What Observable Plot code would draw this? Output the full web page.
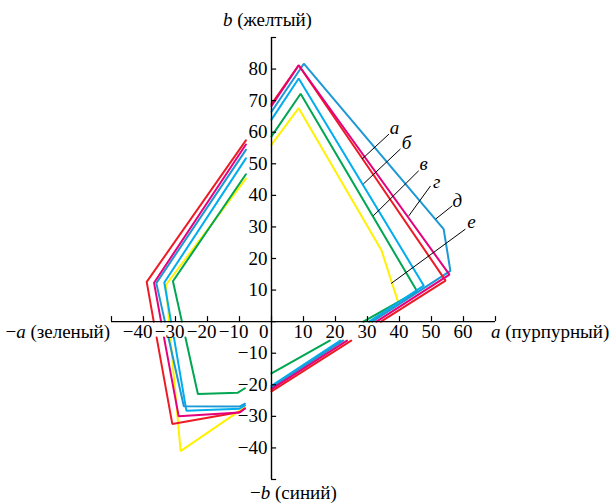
<!DOCTYPE html>
<html>
<head>
<meta charset="utf-8">
<script src="https://cdn.jsdelivr.net/npm/d3@7"></script>
<script src="https://cdn.jsdelivr.net/npm/@observablehq/plot@0.6"></script>
<style>
  body { margin: 0; background: white; }
  #chart { width: 611px; height: 503px; }
</style>
</head>
<body>
<div id="chart"></div>
<script>
// Curves: visible pieces [a, b] (gaps where the tick labels cover them)
const curveRed = [
  [[0,68.9],[8.5,81.2],[54.4,13],[34.2,0]],
  [[24.9,-6],[0,-22.1]],
  [[-8.3,-27.5],[-9.8,-28.6],[-31,-32.4],[-35.9,-5]],
  [[-36.8,0],[-39,12.6],[-8,57.4]]
];
const curveMagenta = [
  [[0,68.3],[8.5,81.2],[55.6,14.9],[32.8,0]],
  [[23.6,-6],[0,-21.4]],
  [[-8.3,-27.5],[-10,-28.8],[-29,-30],[-33.6,-5]],
  [[-34.5,0],[-36.7,12.3],[-8,56.1]]
];
const curveDarkBlue = [
  [[0,66.5],[10.1,81.7],[53.8,29.3],[55.9,16.1],[31.5,0]],
  [[22.4,-6],[0,-20.8]],
  [[-8.3,-26],[-10,-26.9],[-27.4,-26.8],[-32.2,-5]],
  [[-33.3,0],[-36,12.2],[-8,54.4]]
];
const curveCyan = [
  [[0,64],[8.5,77],[47.6,11.4],[30.5,0]],
  [[21.5,-6],[0,-20.3]],
  [[-8.3,-26.5],[-10,-27.6],[-26.6,-28.2],[-30.5,-5]],
  [[-31.4,0],[-33.5,12.4],[-8,51.7]]
];
const curveGreen = [
  [[0,58.7],[9.1,72.2],[45.5,9.6],[28.7,0]],
  [[18.2,-6],[0,-16.4]],
  [[-8.3,-21.1],[-10.5,-22.5],[-23,-22.9],[-26.9,-5]],
  [[-28,0],[-30.8,12.8],[-8,46.7]]
];
const curveYellow = [
  [[0,56.1],[8.5,67.6],[34.4,22.5],[39.6,6.1],[30.8,0]],
  [[22.1,-6],[0,-21.3]],
  [[-8.3,-27.1],[-28.4,-41],[-31.6,-5]],
  [[-32,0],[-33,11.6],[-8,45.3]]
];
const curveColors = ["#fff200", "#00a651", "#00aeef", "#1b98d5", "#ed1c24", "#e5007d"];
const curves = [curveYellow, curveGreen, curveCyan, curveDarkBlue, curveRed, curveMagenta];

// Pointer labels: letter, label position, line start, line end
const pointerLetters = ["а", "б", "в", "г", "д", "е"];
const pointerLabelPos = [[38.4,61.4],[42.2,56.6],[47.5,50.0],[51.6,44.3],[58.1,38.3],[62.5,31.6]];
const pointerStart = [[36.7,59.4],[40.3,54.7],[46.0,47.8],[49.7,43.0],[56.5,36.7],[60.6,29.3]];
const pointerEnd = [[28.3,51.5],[28.7,43.6],[31.8,33.5],[42.9,33.5],[51.3,32.5],[37.4,12.1]];

// Axes
const xDomain = [-50, 70];
const yDomain = [-50, 90];
const xTicks = [-50,-40,-30,-20,-10,0,10,20,30,40,50,60,70];
const yTicks = [-50,-40,-30,-20,-10,0,10,20,30,40,50,60,70,80,90];
const xTickLabels = [-40,-30,-20,-10,10,20,30,40,50,60];
const yTickLabels = [-40,-30,-20,-10,10,20,30,40,50,60,70,80];

const fmt = d => (d < 0 ? "\u2212" + Math.abs(d) : String(d));

const lineMarks = curves.map((pieces, i) => {
  const pts = [];
  pieces.forEach((p, j) => {
    if (j > 0) pts.push({a: NaN, b: NaN});
    p.forEach(([a, b]) => pts.push({a, b}));
  });
  return Plot.line(pts, {x: "a", y: "b", stroke: curveColors[i], strokeWidth: 2, strokeLinejoin: "miter"});
});

const pointers = pointerLetters.map((l, i) => ({
  label: l,
  lx: pointerLabelPos[i][0], ly: pointerLabelPos[i][1],
  x1: pointerStart[i][0], y1: pointerStart[i][1],
  x2: pointerEnd[i][0], y2: pointerEnd[i][1]
}));

const plot = Plot.plot({
  width: 611,
  height: 503,
  marginLeft: 111,
  marginRight: 116,
  marginTop: 37,
  marginBottom: 24,
  x: {domain: xDomain, axis: null},
  y: {domain: yDomain, axis: null},
  style: {fontFamily: "'Liberation Serif', 'Times New Roman', serif", fontSize: "19px", background: "white", color: "black"},
  marks: [
    ...lineMarks,
    Plot.link(pointers, {x1: "x1", y1: "y1", x2: "x2", y2: "y2", stroke: "black", strokeWidth: 1}),
    Plot.text(pointers, {x: "lx", y: "ly", text: "label", fontStyle: "italic", fontSize: 19, fill: "black"}),
    Plot.ruleY([0], {x1: xDomain[0], x2: xDomain[1], stroke: "black", strokeWidth: 1.4}),
    Plot.ruleX([0], {y1: yDomain[0], y2: yDomain[1], stroke: "black", strokeWidth: 1.4}),
    Plot.ruleX(xTicks, {x: d => d, y1: 0, y2: 1.6, stroke: "black", strokeWidth: 1.2}),
    Plot.ruleY(yTicks, {y: d => d, x1: 0, x2: 1.6, stroke: "black", strokeWidth: 1.2}),
    Plot.text(xTickLabels, {x: d => d, y: 0, text: fmt, textAnchor: "end", dx: 9, dy: 10, fontSize: 19, fill: "black"}),
    Plot.text([0], {x: 0, y: 0, text: d => String(d), textAnchor: "end", dx: -3, dy: 10, fontSize: 19, fill: "black"}),
    Plot.text(yTickLabels, {x: 0, y: d => d, text: fmt, textAnchor: "end", dx: -4, fontSize: 19, fill: "black"})
  ]
});

document.getElementById("chart").appendChild(plot);

// Axis names with italic letters, positioned through the plot's scales
const sx = plot.scale("x"), sy = plot.scale("y");
const X = v => sx.apply(v), Y = v => sy.apply(v);
const svg = d3.select(plot);
const axisNames = [
  {it: "b", rest: " (желтый)", pre: "", x: X(0) - 48, y: Y(90) - 11, anchor: "start"},
  {it: "b", rest: " (синий)", pre: "\u2212", x: X(0) - 21, y: Y(-50) + 20, anchor: "start"},
  {it: "a", rest: " (пурпурный)", pre: "", x: X(70) - 4, y: Y(0) + 17, anchor: "start"},
  {it: "a", rest: " (зеленый)", pre: "\u2212", x: X(-50) - 1, y: Y(0) + 17, anchor: "end"}
];
axisNames.forEach(n => {
  const t = svg.append("text")
    .attr("x", n.x).attr("y", n.y)
    .attr("text-anchor", n.anchor)
    .attr("font-family", "'Liberation Serif', 'Times New Roman', serif")
    .attr("font-size", 19).attr("fill", "black");
  if (n.pre) t.append("tspan").text(n.pre);
  t.append("tspan").attr("font-style", "italic").text(n.it);
  t.append("tspan").text(n.rest);
});
</script>
</body>
</html>
